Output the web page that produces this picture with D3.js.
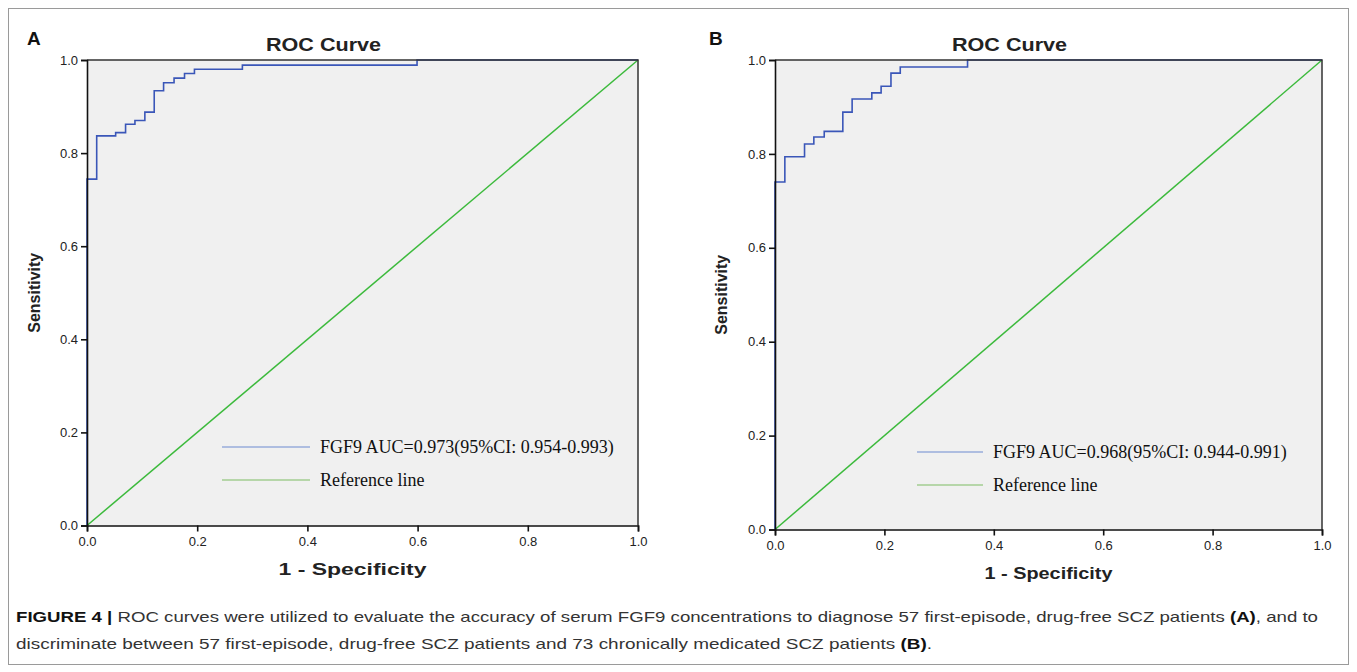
<!DOCTYPE html>
<html>
<head>
<meta charset="utf-8">
<script src="https://cdn.jsdelivr.net/npm/d3@7"></script>
<style>
  body { margin: 0; background: #fff; }
  text { font-family: "Liberation Sans", Arial, sans-serif; }
</style>
</head>
<body>
<svg id="fig" width="1357" height="672"></svg>
<script>
// Datos
const ticks = [0, 0.2, 0.4, 0.6, 0.8, 1.0];
const refLine = [0, 1];

// Panel A: curva ROC (1 - especificidad, sensibilidad)
const aFpr = [0, 0, 0.0176, 0.052, 0.070, 0.087, 0.105, 0.122, 0.139, 0.158, 0.177, 0.195, 0.282, 0.599, 1];
const aTpr = [0, 0.744, 0.837, 0.844, 0.862, 0.870, 0.888, 0.934, 0.951, 0.961, 0.971, 0.980, 0.989, 1.0, 1.0];
// Panel B
const bFpr = [0, 0, 0.018, 0.054, 0.071, 0.090, 0.124, 0.141, 0.177, 0.194, 0.212, 0.229, 0.352, 1];
const bTpr = [0, 0.740, 0.794, 0.821, 0.836, 0.848, 0.889, 0.917, 0.930, 0.944, 0.972, 0.985, 1.0, 1.0];

const legendA = ["FGF9 AUC=0.973(95%CI: 0.954-0.993)", "Reference line"];
const legendB = ["FGF9 AUC=0.968(95%CI: 0.944-0.991)", "Reference line"];

const caption1 = ["FIGURE 4 | ", "ROC curves were utilized to evaluate the accuracy of serum FGF9 concentrations to diagnose 57 first-episode, drug-free SCZ patients ", "(A)", ", and to"];
const caption2 = ["discriminate between 57 first-episode, drug-free SCZ patients and 73 chronically medicated SCZ patients ", "(B)", "."];

const svg = d3.select("#fig");

// Marco exterior
svg.append("rect")
  .attr("x", 8.5).attr("y", 8.5)
  .attr("width", 1340).attr("height", 656)
  .attr("fill", "none").attr("stroke", "#9a9a9a").attr("stroke-width", 1);

const blue = "#3a56b8";
const green = "#3cba3c";

function panel(cfg) {
  const x = d3.scaleLinear().domain([0, 1]).range([cfg.x0, cfg.x1]);
  const y = d3.scaleLinear().domain([0, 1]).range([cfg.y0, cfg.y1]);
  const g = svg.append("g");

  // Fondo del área de trazado
  g.append("rect")
    .attr("x", x(0)).attr("y", y(1))
    .attr("width", x(1) - x(0)).attr("height", y(0) - y(1))
    .attr("fill", "#f0f0f0");

  // Línea de referencia
  g.append("path")
    .datum(refLine)
    .attr("d", d3.line().x(d => x(d)).y(d => y(d)))
    .attr("stroke", green).attr("stroke-width", 1.5).attr("fill", "none");

  // Curva ROC
  const pts = cfg.fpr.map((f, i) => [f, cfg.tpr[i]]);
  g.append("path")
    .datum(pts)
    .attr("d", d3.line().x(d => x(d[0])).y(d => y(d[1])).curve(d3.curveStepAfter))
    .attr("stroke", blue).attr("stroke-width", 1.6).attr("fill", "none");

  // Bordes superior y derecho
  g.append("path")
    .attr("d", `M${x(0)},${y(1)}H${x(1)}V${y(0)}`)
    .attr("stroke", "#333").attr("stroke-width", 1.5).attr("fill", "none");

  // Ejes
  const xAxis = g.append("g")
    .attr("transform", `translate(0,${y(0)})`)
    .call(d3.axisBottom(x).tickValues(ticks).tickSize(6).tickFormat(d3.format(".1f")));
  const yAxis = g.append("g")
    .attr("transform", `translate(${x(0)},0)`)
    .call(d3.axisLeft(y).tickValues(ticks).tickSize(6).tickFormat(d3.format(".1f")));
  [xAxis, yAxis].forEach(a => {
    a.select(".domain").attr("stroke", "#111").attr("stroke-width", 1.6);
    a.selectAll(".tick line").attr("stroke", "#111").attr("stroke-width", 1.6);
    a.selectAll(".tick text")
      .attr("font-family", "Liberation Sans, Arial, sans-serif")
      .attr("font-size", 13).attr("fill", "#222");
  });
  xAxis.selectAll(".tick text").attr("dy", "0.85em");

  // Títulos
  g.append("text")
    .attr("x", (x(0) + x(1)) / 2 - 39).attr("y", cfg.titleY)
    .attr("text-anchor", "middle").attr("font-size", 19).attr("font-weight", "bold")
    .attr("fill", "#222").attr("textLength", 115).attr("lengthAdjust", "spacingAndGlyphs")
    .text("ROC Curve");
  g.append("text")
    .attr("x", (x(0) + x(1)) / 2 + cfg.xlabOff).attr("y", cfg.xlabY)
    .attr("text-anchor", "middle").attr("font-size", 17).attr("font-weight", "bold")
    .attr("fill", "#222").attr("textLength", cfg.xlabLen).attr("lengthAdjust", "spacingAndGlyphs")
    .text("1 - Specificity");
  g.append("text")
    .attr("transform", `translate(${cfg.ylabX},${(y(0) + y(1)) / 2}) rotate(-90)`)
    .attr("text-anchor", "middle").attr("font-size", 16).attr("font-weight", "bold")
    .attr("fill", "#222").text("Sensitivity");
  g.append("text")
    .attr("x", cfg.letterX).attr("y", 45)
    .attr("font-size", 19).attr("font-weight", "bold").attr("fill", "#111")
    .text(cfg.letter);

  // Leyenda
  const legColors = ["#6c8ad0", "#7cbc62"];
  cfg.legend.forEach((t, i) => {
    const ly = cfg.legY + i * 33;
    g.append("line")
      .attr("x1", cfg.legX).attr("x2", cfg.legX + cfg.legLen)
      .attr("y1", ly).attr("y2", ly)
      .attr("stroke", legColors[i]).attr("stroke-width", 1.2);
    g.append("text")
      .attr("x", cfg.legX + cfg.legLen + 10).attr("y", ly + 6)
      .style("font-family", "'Liberation Serif', 'Times New Roman', serif")
      .attr("font-size", 18).attr("fill", "#111").text(t);
  });
}

panel({ x0: 87, x1: 638, y0: 525.5, y1: 60, fpr: aFpr, tpr: aTpr, titleY: 51, xlabY: 575, xlabOff: -10, xlabLen: 148, ylabX: 40,
        letter: "A", letterX: 27, legend: legendA, legX: 222, legLen: 88, legY: 447 });
panel({ x0: 775, x1: 1322, y0: 529.5, y1: 60, fpr: bFpr, tpr: bTpr, titleY: 51, xlabY: 579, xlabOff: 0, xlabLen: 128, ylabX: 727,
        letter: "B", letterX: 709, legend: legendB, legX: 917, legLen: 66, legY: 452 });

// Pie de figura
const cap = svg.append("g").style("font-family", "'Liberation Sans Narrow', 'DejaVu Sans Condensed', 'Liberation Sans', sans-serif");
function capLine(parts, yPos, width) {
  const t = cap.append("text").attr("x", 16).attr("y", yPos)
    .attr("font-size", 15).attr("fill", "#333")
    .attr("textLength", width).attr("lengthAdjust", "spacingAndGlyphs");
  parts.forEach(p => {
    const bold = p.startsWith("FIGURE") || p.startsWith("(");
    t.append("tspan").attr("font-weight", bold ? "bold" : "normal")
      .attr("fill", bold ? "#111" : "#333").text(p);
  });
}
capLine(caption1, 622, 1302);
capLine(caption2, 649, 916);
</script>
</body>
</html>
